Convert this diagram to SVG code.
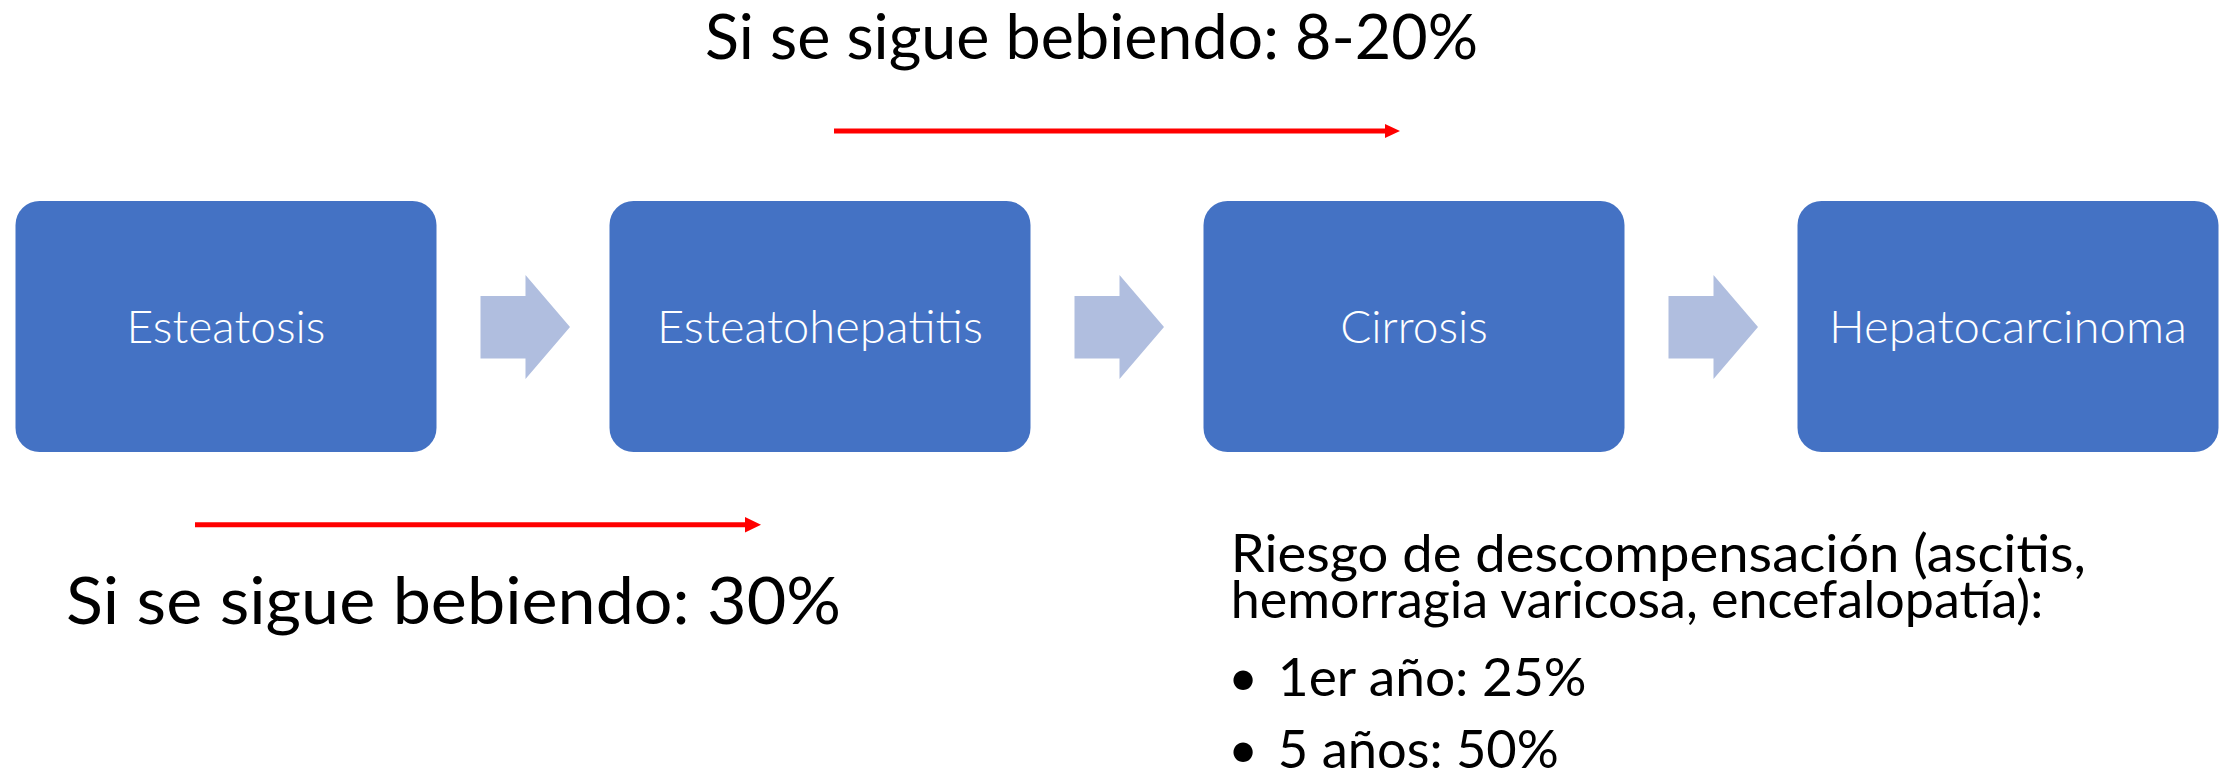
<svg xmlns="http://www.w3.org/2000/svg" width="2233" height="774" viewBox="0 0 2233 774">
  <defs>
    <style>
      .box { fill: #4472C4; }
      .chev { fill: #B0BEDF; }
      .boxtxt { font-family: Lato, "Liberation Sans", sans-serif; font-weight: 300; font-size: 46px; fill: #FFFFFF; text-anchor: middle; }
      .ttl { font-family: Lato, "Liberation Sans", sans-serif; fill: #000000; }
      .red { stroke: #FF0000; stroke-width: 5; fill: none; }
      .redhead { fill: #FF0000; }
    </style>
  </defs>
  <rect width="2233" height="774" fill="#FFFFFF"/>

  <g id="node-esteatosis">
    <rect class="box" x="15.5" y="201" width="421" height="251" rx="24" ry="24"/>
    <text class="boxtxt" x="226" y="342.7" textLength="199" lengthAdjust="spacingAndGlyphs">Esteatosis</text>
  </g>
  <g id="node-esteatohepatitis">
    <rect class="box" x="609.5" y="201" width="421" height="251" rx="24" ry="24"/>
    <text class="boxtxt" x="820" y="342.7" textLength="326" lengthAdjust="spacingAndGlyphs">Esteatohepatitis</text>
  </g>
  <g id="node-cirrosis">
    <rect class="box" x="1203.5" y="201" width="421" height="251" rx="24" ry="24"/>
    <text class="boxtxt" x="1414" y="342.7">Cirrosis</text>
  </g>
  <g id="node-hepatocarcinoma">
    <rect class="box" x="1797.5" y="201" width="421" height="251" rx="24" ry="24"/>
    <text class="boxtxt" x="2008" y="342.7" textLength="358" lengthAdjust="spacingAndGlyphs">Hepatocarcinoma</text>
  </g>

  <g id="connectors">
    <polygon class="chev" points="480.5,296 525.5,296 525.5,275 570,327 525.5,379 525.5,358.5 480.5,358.5"/>
    <polygon class="chev" points="1074.5,296 1119.5,296 1119.5,275 1164,327 1119.5,379 1119.5,358.5 1074.5,358.5"/>
    <polygon class="chev" points="1668.5,296 1713.5,296 1713.5,275 1758,327 1713.5,379 1713.5,358.5 1668.5,358.5"/>
  </g>

  <g id="label-top">
    <text class="ttl" x="1091.5" y="59.3" font-size="62" text-anchor="middle" textLength="773" lengthAdjust="spacingAndGlyphs">Si se sigue bebiendo: 8-20%</text>
    <line class="red" x1="834" y1="131" x2="1386" y2="131"/>
    <polygon class="redhead" points="1385,124 1400,131 1385,138"/>
  </g>

  <g id="label-bottom">
    <line class="red" x1="195" y1="524.7" x2="746" y2="524.7"/>
    <polygon class="redhead" points="745,517 761,524.7 745,532.4"/>
    <text class="ttl" x="453.5" y="624.3" font-size="66" text-anchor="middle" textLength="775" lengthAdjust="spacingAndGlyphs">Si se sigue bebiendo: 30%</text>
  </g>

  <g id="label-risk">
    <text class="ttl" font-size="52">
      <tspan x="1230.8" y="571.7" textLength="855" lengthAdjust="spacingAndGlyphs">Riesgo de descompensación (ascitis,</tspan>
      <tspan x="1230.8" y="618.3">hemorragia varicosa, encefalopatía):</tspan>
    </text>
    <text class="ttl" font-size="52" x="1228" y="696">•</text>
    <text class="ttl" font-size="52" x="1277.8" y="696" textLength="308.7" lengthAdjust="spacingAndGlyphs">1er año: 25%</text>
    <text class="ttl" font-size="52" x="1228" y="768">•</text>
    <text class="ttl" font-size="52" x="1277.8" y="768" textLength="281" lengthAdjust="spacingAndGlyphs">5 años: 50%</text>
  </g>
</svg>
